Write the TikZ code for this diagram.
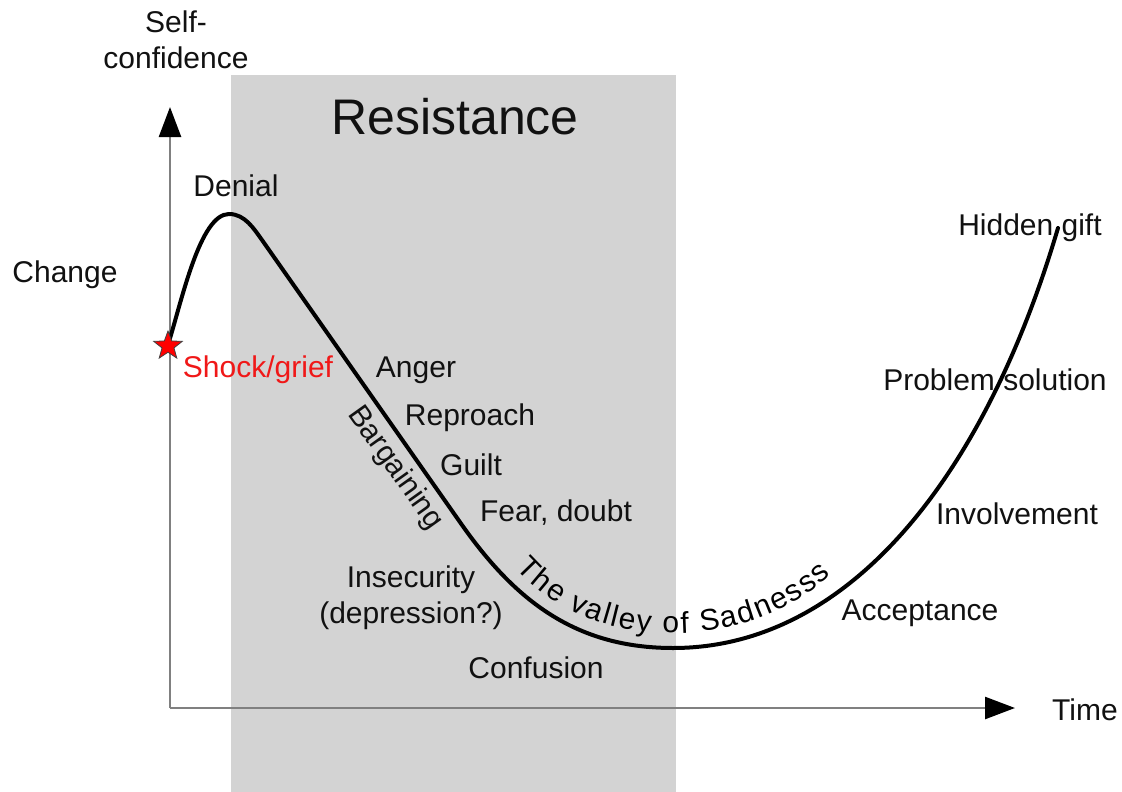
\documentclass[tikz,border=0pt]{standalone}
\usepackage{fontspec}
\setmainfont{Liberation Sans}
\usetikzlibrary{arrows.meta,shapes.geometric,decorations.text}
\definecolor{band}{HTML}{D3D3D3}
\definecolor{axisgray}{HTML}{808080}
\definecolor{ink}{HTML}{111111}
\definecolor{shockred}{HTML}{F01818}
\tikzset{
  lbl/.style={font=\fontsize{30}{36}\selectfont, text=ink, inner sep=0pt},
  axisline/.style={draw=axisgray, line width=2.5pt,
    -{Triangle[length=30pt,width=22pt,color=black]}},
  curveline/.style={draw=black, line width=4pt, line join=round, line cap=round},
}
\begin{document}
\begin{tikzpicture}[x=1pt,y=-1pt]
\useasboundingbox (0,0) rectangle (1122,792);
\fill[white] (0,0) rectangle (1122,792);

% resistance phase band
\fill[band] (231,75) rectangle (676,792);
\node[lbl, font=\fontsize{50}{60}\selectfont] (resist) at (455,117) {Resistance};

% axes
\coordinate (origin) at (170,708);
\coordinate (ytip) at (170,107);
\coordinate (xtip) at (1015,708);
\draw[axisline] (origin) -- (ytip);
\draw[axisline] (origin) -- (xtip);
\node[lbl, anchor=base] (selfA) at (176,33) {Self-};
\node[lbl, anchor=base] (selfB) at (176,69) {confidence};
\node[lbl] (time) at (1085,710) {Time};

% change curve
\draw[curveline] (168,345) .. controls (182,300) and (200,214) .. (229,214)
  .. controls (245,214) and (254,229) .. (262,240)
  -- (462,525) .. controls (515,600) and (575,648) .. (673,648)
  .. controls (850,648) and (985,475) .. (1058,228);

% text following the valley, on its own baseline just above the curve
\path[decorate, decoration={text along path, text align=fit to path,
  text={|\fontsize{30}{36}\selectfont|The valley of Sadnesss}}]
  (516,568) .. controls (560,618) and (620,634) .. (680,633)
  .. controls (742,632) and (796,607) .. (831,575);

% shock marker
\node[star, star points=5, star point ratio=2.4, minimum size=30pt, inner sep=0pt,
  fill=red, draw=black!75, line width=0.8pt] (shock) at (168,346) {};

% stage labels
\node[lbl] (change) at (65,275) {Change};
\node[lbl] (denial) at (236,186) {Denial};
\node[lbl, text=shockred] (grief) at (258,370) {Shock/grief};
\node[lbl] (anger) at (416,370) {Anger};
\node[lbl] (reproach) at (470,418) {Reproach};
\node[lbl] (guilt) at (471,465) {Guilt};
\node[lbl] (fear) at (556,513) {Fear, doubt};
\node[lbl, rotate=-54.5] (bargain) at (395,468) {Bargaining};
\node[lbl, align=center] (insecure) at (411,598) {Insecurity\\(depression?)};
\node[lbl] (confusion) at (536,668) {Confusion};
\node[lbl] (accept) at (920,613) {Acceptance};
\node[lbl] (involve) at (1017,514) {Involvement};
\node[lbl] (problem) at (995,380) {Problem solution};
\node[lbl] (gift) at (1030,228) {Hidden gift};
\end{tikzpicture}
\end{document}
